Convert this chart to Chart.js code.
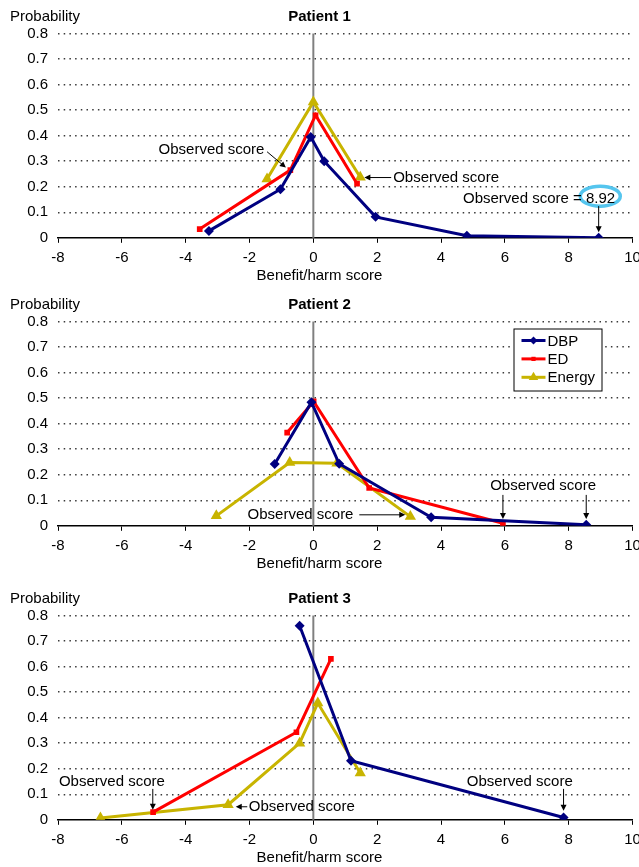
<!DOCTYPE html>
<html>
<head>
<meta charset="utf-8">
<script src="https://cdn.jsdelivr.net/npm/chart.js@4/dist/chart.umd.min.js"></script>
<style>
  body { margin: 0; background: #fff; }
  .panel { position: absolute; left: 0; width: 639px; height: 285px; }
</style>
</head>
<body>
<div class="panel" style="top:0px"><canvas id="c1" width="639" height="285"></canvas></div>
<div class="panel" style="top:288px"><canvas id="c2" width="639" height="285"></canvas></div>
<div class="panel" style="top:582px"><canvas id="c3" width="639" height="285"></canvas></div>
<script>
// Series names and colours
const seriesNames = ['DBP', 'ED', 'Energy'];
const seriesColors = ['#000080', '#ff0000', '#c8b400'];

// Axis ticks
const xTicks = [-8, -6, -4, -2, 0, 2, 4, 6, 8, 10];
const yTicks = [0, 0.1, 0.2, 0.3, 0.4, 0.5, 0.6, 0.7, 0.8];

// Patient 1
const p1DbpX = [-3.27, -1.03, -0.08, 0.34, 1.95, 4.81, 8.94];
const p1DbpY = [0.027, 0.19, 0.395, 0.30, 0.082, 0.008, 0.0];
const p1EdX = [-3.56, -0.72, 0.07, 1.37];
const p1EdY = [0.034, 0.265, 0.48, 0.212];
const p1EnergyX = [-1.45, 0.0, 1.47];
const p1EnergyY = [0.23, 0.532, 0.237];

// Patient 2
const p2DbpX = [-1.21, -0.06, 0.81, 3.69, 8.55];
const p2DbpY = [0.242, 0.484, 0.243, 0.033, 0.004];
const p2EdX = [-0.82, 0.01, 1.75, 5.94];
const p2EdY = [0.365, 0.487, 0.148, 0.01];
const p2EnergyX = [-3.04, -0.74, 0.74, 3.04];
const p2EnergyY = [0.039, 0.248, 0.245, 0.036];

// Patient 3
const p3DbpX = [-0.43, 1.18, 7.84];
const p3DbpY = [0.76, 0.231, 0.009];
const p3EdX = [-5.02, -0.53, 0.55];
const p3EdY = [0.03, 0.343, 0.63];
const p3EnergyX = [-6.67, -2.67, -0.43, 0.14, 1.47];
const p3EnergyY = [0.007, 0.059, 0.30, 0.457, 0.183];

// "Observed score" notes, in data units
const p1Notes = [
  { text: 'Observed score', x: -4.85, y: 0.343 },
  { text: 'Observed score', x: 2.50, y: 0.234 },
  { text: 'Observed score = 8.92', x: 4.69, y: 0.151 }
];
const p1Arrows = [[-1.45, 0.337, -0.86, 0.275], [2.44, 0.236, 1.60, 0.236], [8.94, 0.124, 8.94, 0.022]];
const p1Ring = { x: 8.99, y: 0.163 };

const p2Notes = [
  { text: 'Observed score', x: -2.06, y: 0.043 },
  { text: 'Observed score', x: 5.54, y: 0.155 }
];
const p2Arrows = [[1.44, 0.043, 2.88, 0.043], [5.94, 0.121, 5.94, 0.027], [8.55, 0.121, 8.55, 0.027]];

const p3Notes = [
  { text: 'Observed score', x: -7.97, y: 0.149 },
  { text: 'Observed score', x: -2.02, y: 0.051 },
  { text: 'Observed score', x: 4.81, y: 0.149 }
];
const p3Arrows = [[-5.03, 0.121, -5.03, 0.039], [-2.07, 0.051, -2.43, 0.051], [7.84, 0.121, 7.84, 0.035]];

Chart.defaults.font.family = "'Liberation Sans', Arial, sans-serif";
Chart.defaults.font.size = 15;
Chart.defaults.color = '#000';

const pointStyles = ['rectRot', 'rect', 'triangle'];
const pointRadii = [5, 4, 6.5];

function toPoints(xs, ys) {
  return xs.map((x, i) => ({ x: x, y: ys[i] }));
}

function makeDatasets(sets) {
  return sets.map((s, i) => ({
    label: seriesNames[i],
    data: toPoints(s[0], s[1]),
    borderColor: seriesColors[i],
    backgroundColor: seriesColors[i],
    borderWidth: 3,
    pointStyle: pointStyles[i],
    pointRadius: pointRadii[i],
    pointBorderWidth: 0,
    pointBackgroundColor: seriesColors[i],
    showLine: true,
    tension: 0,
    fill: false
  }));
}

function drawArrow(ctx, x1, y1, x2, y2) {
  const ang = Math.atan2(y2 - y1, x2 - x1);
  const len = 6, half = 3;
  ctx.beginPath();
  ctx.moveTo(x1, y1);
  ctx.lineTo(x2 - Math.cos(ang) * len * 0.8, y2 - Math.sin(ang) * len * 0.8);
  ctx.stroke();
  ctx.beginPath();
  ctx.moveTo(x2, y2);
  ctx.lineTo(x2 - Math.cos(ang) * len - Math.sin(ang) * half, y2 - Math.sin(ang) * len + Math.cos(ang) * half);
  ctx.lineTo(x2 - Math.cos(ang) * len + Math.sin(ang) * half, y2 - Math.sin(ang) * len - Math.cos(ang) * half);
  ctx.closePath();
  ctx.fill();
}

// Draws zero line, titles, notes and (optionally) legend
const decorPlugin = {
  id: 'decor',
  beforeDatasetsDraw(chart) {
    const { ctx, chartArea, scales } = chart;
    const x0 = scales.x.getPixelForValue(0);
    ctx.save();
    ctx.strokeStyle = '#808080';
    ctx.lineWidth = 2;
    ctx.beginPath();
    ctx.moveTo(x0, chartArea.top);
    ctx.lineTo(x0, chartArea.bottom);
    ctx.stroke();
    ctx.restore();
  },
  afterDraw(chart, args, opts) {
    const { ctx, chartArea, scales } = chart;
    const W = chart.width;
    ctx.save();
    ctx.fillStyle = '#000';
    ctx.textBaseline = 'middle';
    ctx.font = "bold 15px 'Liberation Sans', Arial, sans-serif";
    ctx.textAlign = 'center';
    ctx.fillText(opts.title, W / 2, 16.5);
    ctx.font = "15px 'Liberation Sans', Arial, sans-serif";
    ctx.textAlign = 'left';
    ctx.fillText('Probability', 10, 16.5);
    ctx.textAlign = 'center';
    ctx.fillText('Benefit/harm score', W / 2, 276);

    // ring around the observed value
    if (opts.ring) {
      const cx = scales.x.getPixelForValue(opts.ring.x);
      const cy = scales.y.getPixelForValue(opts.ring.y);
      ctx.strokeStyle = '#55c5ee';
      ctx.lineWidth = 3.5;
      ctx.beginPath();
      ctx.ellipse(cx, cy, 20, 10, 0, 0, Math.PI * 2);
      ctx.stroke();
    }

    ctx.textAlign = 'left';
    ctx.fillStyle = '#000';
    opts.notes.forEach(n => {
      ctx.fillText(n.text, scales.x.getPixelForValue(n.x), scales.y.getPixelForValue(n.y));
    });
    ctx.strokeStyle = '#000';
    ctx.lineWidth = 1;
    opts.arrows.forEach(a => {
      drawArrow(ctx,
        scales.x.getPixelForValue(a[0]), scales.y.getPixelForValue(a[1]),
        scales.x.getPixelForValue(a[2]), scales.y.getPixelForValue(a[3]));
    });

    if (opts.legend) {
      const left = chartArea.right - 119, top = chartArea.top + 7;
      ctx.fillStyle = '#fff';
      ctx.fillRect(left, top, 88, 62);
      ctx.strokeStyle = '#000';
      ctx.lineWidth = 1;
      ctx.strokeRect(left + 0.5, top + 0.5, 88, 62);
      chart.data.datasets.forEach((ds, i) => {
        const y = top + 12 + i * 18.4;
        const lx = left + 8;
        ctx.strokeStyle = ds.borderColor;
        ctx.lineWidth = 3;
        ctx.beginPath();
        ctx.moveTo(lx, y);
        ctx.lineTo(lx + 24, y);
        ctx.stroke();
        if (Chart.helpers && Chart.helpers.drawPoint) {
          ctx.fillStyle = ds.borderColor;
          Chart.helpers.drawPoint(ctx, { pointStyle: ds.pointStyle, radius: ds.pointRadius - 1, borderWidth: 0 }, lx + 12, y);
        }
        ctx.fillStyle = '#000';
        ctx.textAlign = 'left';
        ctx.fillText(ds.label, lx + 26, y + 1);
      });
    }
    ctx.restore();
  }
};

function makeChart(id, title, sets, notes, arrows, ring, legend) {
  return new Chart(document.getElementById(id), {
    type: 'scatter',
    data: { datasets: makeDatasets(sets) },
    options: {
      responsive: false,
      animation: false,
      devicePixelRatio: 1,
      layout: { padding: { top: 33.5, right: 6, left: 0, bottom: 0 } },
      plugins: {
        legend: { display: false },
        tooltip: { enabled: false },
        decor: { title: title, notes: notes, arrows: arrows, ring: ring, legend: legend }
      },
      scales: {
        x: {
          type: 'linear',
          min: xTicks[0],
          max: xTicks[xTicks.length - 1],
          afterBuildTicks: s => { s.ticks = xTicks.map(v => ({ value: v })); },
          afterFit: s => { s.height = 47.2; s.paddingLeft = 0; s.paddingRight = 0; },
          grid: { drawOnChartArea: false, drawTicks: true, tickLength: 5, tickColor: '#000', tickWidth: 1, color: '#000' },
          border: { display: true, color: '#000', width: 1.5 },
          ticks: { padding: 6, maxRotation: 0, autoSkip: false, color: '#000' }
        },
        y: {
          type: 'linear',
          min: yTicks[0],
          max: yTicks[yTicks.length - 1],
          afterBuildTicks: s => { s.ticks = yTicks.map(v => ({ value: v })); },
          afterFit: s => { s.width = 58; s.paddingTop = 0; s.paddingBottom = 0; },
          grid: {
            drawTicks: false,
            lineWidth: 1.5,
            color: c => (c.tick && c.tick.value === 0) ? 'rgba(0,0,0,0)' : '#3a3a3a'
          },
          border: { display: false, dash: [1.5, 4.2] },
          ticks: { padding: 10, color: '#000', callback: v => String(Math.round(v * 10) / 10) }
        }
      }
    },
    plugins: [decorPlugin]
  });
}

makeChart('c1', 'Patient 1',
  [[p1DbpX, p1DbpY], [p1EdX, p1EdY], [p1EnergyX, p1EnergyY]],
  p1Notes, p1Arrows, p1Ring, false);
makeChart('c2', 'Patient 2',
  [[p2DbpX, p2DbpY], [p2EdX, p2EdY], [p2EnergyX, p2EnergyY]],
  p2Notes, p2Arrows, null, true);
makeChart('c3', 'Patient 3',
  [[p3DbpX, p3DbpY], [p3EdX, p3EdY], [p3EnergyX, p3EnergyY]],
  p3Notes, p3Arrows, null, false);
</script>
</body>
</html>
